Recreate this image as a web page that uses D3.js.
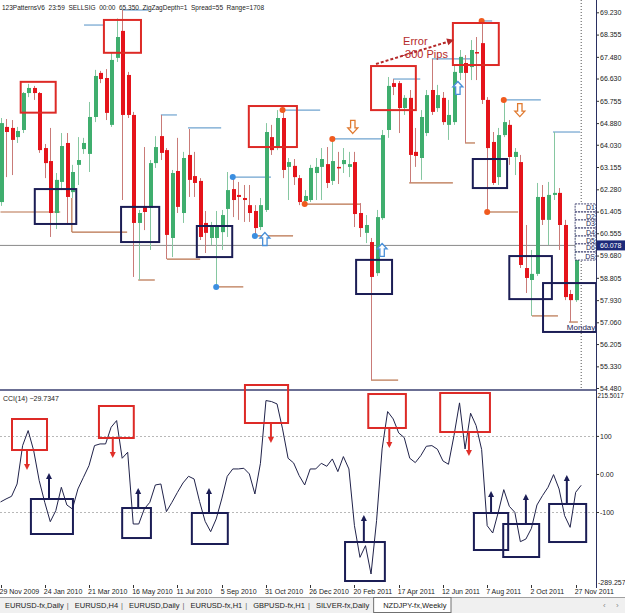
<!DOCTYPE html>
<html>
<head>
<meta charset="utf-8">
<script src="https://cdn.jsdelivr.net/npm/d3@7"></script>
<style>
body { margin: 0; background: #fff; }
svg { display: block; }
text { font-family: "Liberation Sans", Arial, sans-serif; }
</style>
</head>
<body>
<svg width="625" height="613"></svg>
<script>
var svg = d3.select("svg"),
    width = +svg.attr("width"),
    height = +svg.attr("height");

// weekly NZDJPY candles, 29 Nov 2009 .. Dec 2011
var open = [61.78,64.73,64.69,64.33,64.61,66.06,66.26,66.06,63.90,63.39,
  61.35,62.57,64.10,62.17,63.24,63.86,63.67,65.12,66.85,66.65,
  64.81,67.44,68.50,66.77,65.20,60.96,61.59,61.55,63.31,64.37,
  63.82,60.37,63.00,61.35,63.63,62.80,62.61,60.96,60.37,60.37,
  60.60,61.51,62.29,62.06,61.94,61.66,61.43,60.80,61.47,64.33,
  63.90,65.08,63.16,63.20,62.72,61.82,61.86,62.92,63.16,63.27,
  62.61,63.16,63.27,63.16,63.35,61.35,60.57,60.21,58.99,61.15,
  64.61,66.45,66.45,65.47,65.87,63.75,63.51,64.49,66.18,65.47,
  65.87,64.81,64.92,66.85,67.24,67.08,67.67,68.02,65.79,64.14,
  62.76,64.41,64.81,63.55,63.35,59.19,58.72,58.96,61.98,61.08,
  62.06,62.14,60.88,58.17,57.93,60.72];
var high = [65.08,65.04,65.00,64.73,66.10,66.42,66.34,66.10,64.06,64.69,
  62.92,64.49,64.49,63.24,64.33,64.30,65.71,66.97,66.93,67.00,
  67.67,68.99,69.32,66.89,65.32,61.47,63.94,63.43,64.37,65.20,
  63.90,63.04,64.30,63.75,64.65,63.75,62.72,61.43,61.00,61.43,
  61.47,62.96,62.76,62.57,62.45,62.45,61.66,61.94,64.88,64.81,
  65.39,65.39,63.51,63.47,62.84,62.25,63.24,63.51,63.90,63.94,
  64.26,63.75,63.90,63.75,63.75,61.74,61.27,60.37,61.47,64.61,
  66.69,66.61,66.53,65.98,66.18,64.69,65.39,66.18,67.40,66.38,
  66.10,65.79,67.16,67.75,67.55,68.14,68.26,68.89,65.90,64.53,
  64.69,65.79,65.00,63.90,63.63,60.88,59.90,62.53,62.45,62.57,
  64.53,62.33,61.08,58.33,60.88,60.88];
var low = [61.63,62.76,62.84,64.10,64.49,65.90,65.79,63.71,62.72,60.41,
  60.72,62.25,60.88,61.94,62.45,63.67,62.96,64.92,66.45,65.00,
  64.73,67.28,61.86,65.08,58.84,58.72,60.68,59.90,63.12,63.43,
  59.54,59.62,61.35,60.96,61.98,61.98,60.29,59.78,60.09,58.45,
  59.90,60.41,61.19,61.08,61.00,61.00,60.45,60.68,61.39,63.63,
  63.82,62.72,61.86,62.45,61.66,61.70,61.78,61.86,61.86,62.33,
  62.45,62.49,62.92,62.76,60.80,60.41,60.17,54.79,58.88,61.08,
  64.30,65.98,64.49,65.20,62.53,63.16,62.65,64.37,65.20,65.32,
  64.81,64.22,64.81,66.57,64.10,66.57,66.57,65.63,61.39,62.45,
  62.45,64.33,63.24,62.84,59.19,58.21,57.31,58.88,60.88,60.09,
  61.86,59.90,57.93,57.07,57.86,59.58];
var close = [64.88,64.53,64.22,64.57,66.06,66.26,66.06,63.82,63.31,61.35,
  62.65,63.98,61.98,62.96,63.43,64.10,65.12,66.73,66.61,65.28,
  67.36,68.26,65.20,65.20,60.96,61.35,61.39,63.31,63.94,63.71,
  60.49,62.92,61.59,63.51,62.65,62.53,60.41,60.57,60.80,60.88,
  61.27,62.25,61.86,61.98,61.86,61.35,60.76,61.66,64.53,63.82,
  65.08,63.04,63.35,62.76,61.78,62.02,63.12,63.16,63.47,62.53,
  63.39,63.12,63.43,63.27,61.31,60.76,60.88,58.84,61.19,64.41,
  66.34,66.30,65.47,65.87,63.63,63.59,65.12,65.98,65.32,65.98,
  64.92,65.20,66.89,67.48,66.85,67.75,67.63,65.79,63.90,62.53,
  64.41,64.92,63.55,63.75,59.31,58.80,58.96,61.98,61.08,62.06,
  62.14,60.88,58.05,57.93,60.72,60.078];

// CCI(14), one value per bar
var cci = [-73.6,-65.7,-58.7,-26.3,74.6,114.1,61.4,-17.5,-74.5,-125.4,
  -96.4,-35.0,-81.5,-92.0,-39.4,-8.7,22.0,74.6,79.0,79.0,
  122.8,140.4,41.3,57.1,-131.5,-131.5,-92.0,-74.5,-28.9,-26.3,
  -99.0,-74.5,-48.2,-23.6,-6.1,-13.1,-72.7,-124.5,-151.7,-118.3,
  -65.7,-6.1,13.2,13.2,15.0,0.1,-52.6,28.0,193.0,190.4,
  184.2,118.5,41.3,29.0,-4.3,-28.9,13.2,13.2,28.1,20.2,
  39.5,6.2,45.7,13.2,-135.9,-219.2,-188.5,-263.0,-122.7,65.8,
  164.1,144.8,107.9,95.6,41.3,29.9,48.3,72.8,74.6,65.0,
  34.3,25.5,100.9,186.9,65.8,159.7,127.2,64.1,-135.9,-155.2,
  -100.8,-41.2,-85.0,-100.8,-178.0,-171.0,-142.9,-81.5,-57.0,-35.0,
  -1.7,-39.4,-109.6,-140.3,-48.2,-29.7347];

var priceTicks = [69.230,68.355,67.480,66.630,65.755,64.880,64.030,63.155,62.280,
  61.405,60.555,59.680,58.805,57.930,57.060,56.205,55.330,54.480];
var cciTicks = [215.5017, 100, 0, -100, -289.257];
var cciTickLabels = ["215.5017", "100", "0.00", "-100", "-289.257"];
var dateTicks = [0,8,16,24,32,40,48,56,64,72,80,88,96,104];
var dateLabels = ["29 Nov 2009","24 Jan 2010","21 Mar 2010","16 May 2010","11 Jul 2010",
  "5 Sep 2010","31 Oct 2010","26 Dec 2010","20 Feb 2011","17 Apr 2011","12 Jun 2011",
  "7 Aug 2011","2 Oct 2011","27 Nov 2011"];
var tabNames = ["EURUSD-fx,Daily","EURUSD,H4","EURUSD,Daily","EURUSD-fx,H1",
  "GBPUSD-fx,H1","SILVER-fx,Daily","NZDJPY-fx,Weekly"];

// pattern annotations: [bar from, bar to, price]
var resistLines = [[15.1,18.7,68.73],[22.0,26.9,69.32],[29.0,31.9,65.20],[33.9,39.9,64.69],
  [41.9,48.9,62.76],[50.9,57.8,65.39],[59.9,69.0,64.26],[71.0,75.9,66.61],[78.0,84.9,67.40],
  [86.9,88.9,68.89],[90.9,97.7,65.79],[99.9,104.8,64.53]];
var supportLines = [[0,10.8,61.39],[12.9,22.9,60.60],[24.9,27.9,58.72],[30.1,36.1,59.54],
  [39.0,43.9,58.45],[45.8,52.9,60.45],[54.9,65.0,61.70],[67.0,71.9,54.79],[73.9,81.8,62.53],
  [84.0,85.8,64.10],[88.0,93.6,61.39],[96.1,100.8,57.31],[102.8,104.4,57.07]];
var supportDrop = [[12.9,61.94,60.60]];
var blueDots = [[39,58.45],[42,62.76],[46,60.45]];
var orangeDots = [[51,65.39],[55,61.70],[60,64.26],[87,68.89],[88,61.39],[91,65.79]];
var upArrows = [[47.8,60.33],[69.0,59.90],[82.7,66.26]];
var downArrows = [[63.7,64.73],[93.9,65.39]];
// boxes: [bar from, bar to, price top, price bottom]
var topBoxes = [[3.65,9.98,66.50,65.29],[18.7,25.4,68.93,67.64],[44.9,53.6,65.55,63.94],
  [67.0,75.1,67.12,65.39],[81.8,90.1,68.81,67.16]];
var bottomBoxes = [[6.2,13.7,62.29,60.92],[21.8,28.7,61.59,60.21],[35.5,41.9,60.84,59.62],
  [64.3,70.8,59.51,58.17],[85.4,91.6,63.47,62.33],[92.0,99.7,59.66,57.97],[98.1,107.7,58.60,56.68]];
var levelTags = [61.55,61.23,60.92,60.60,60.29,59.98,59.66];
var levelNames = ["D1","D2","D3","D4","D5","D6","DS"];
// CCI boxes [bar from, bar to, cci top, cci bottom] and arrows [bar, from, to]
var cciTopBoxes = [[2.08,8.41,144.5,63.0],[17.8,24.1,178.7,94.6],[44.2,52.0,233.9,134.0],
  [66.5,73.3,210.2,120.9],[79.5,88.5,212.9,110.3]];
var cciTopArrows = [[4.79,63.0,15.7],[20.3,94.6,47.2],[48.9,134.0,86.7],[70.3,120.9,73.5],[84.7,110.3,52.5]];
var cciBottomBoxes = [[5.5,13.1,-65.8,-157.8],[22.0,27.2,-89.5,-168.4],[34.6,41.1,-102.6,-184.1],
  [62.3,69.5,-178.9,-281.4],[85.6,91.8,-102.6,-199.9],[90.9,97.4,-131.5,-218.3],[99.2,105.9,-78.9,-178.9]];
var cciBottomArrows = [[8.77,-65.8,-2.7],[24.9,-89.5,-42.1],[37.7,-102.6,-42.1],[65.7,-178.9,-112.9],
  [88.7,-102.6,-50.0],[95.0,-131.5,-57.9],[102.4,-78.9,-7.9]];

var axisX = 596, mainBottom = 390, cciBottom = 584;
var red = "#dd2a26", navy = "#1b1d55", blueLine = "#6fa3cf", brown = "#b8714a";

var x = d3.scaleLinear().domain([0, 105]).range([0.5, 581.2]);
var y = d3.scaleLinear().domain([54.48, 69.23]).range([388, 12.3]);
var yc = d3.scaleLinear().domain([-289.257, 215.5017]).range([584, 392]);

var bars = open.map(function(o, i) {
  return { i: i, o: o, h: high[i], l: low[i], c: close[i] };
});

var defs = svg.append("defs");
defs.append("clipPath").attr("id", "clipMain").append("rect")
  .attr("x", 0).attr("y", 0).attr("width", axisX).attr("height", mainBottom);
defs.append("clipPath").attr("id", "clipCci").append("rect")
  .attr("x", 0).attr("y", mainBottom + 1).attr("width", axisX).attr("height", cciBottom - mainBottom + 2);

// ---------- main price panel ----------
var main = svg.append("g").attr("clip-path", "url(#clipMain)");

// bid line
main.append("line")
  .attr("x1", 0).attr("x2", axisX)
  .attr("y1", y(close[close.length - 1])).attr("y2", y(close[close.length - 1]))
  .style("stroke", "#8a8a8a").style("stroke-width", 1);

// vertical dotted line at the last bar
main.append("line")
  .attr("x1", x(105)).attr("x2", x(105)).attr("y1", 0).attr("y2", mainBottom)
  .style("stroke", "#555").style("stroke-dasharray", "1,2");

// pattern lines
main.selectAll(".res").data(resistLines).enter().append("line")
  .attr("x1", function(d) { return x(d[0]); }).attr("x2", function(d) { return x(d[1]); })
  .attr("y1", function(d) { return y(d[2]); }).attr("y2", function(d) { return y(d[2]); })
  .style("stroke", blueLine).style("stroke-width", 1.2);
main.selectAll(".sup").data(supportLines).enter().append("line")
  .attr("x1", function(d) { return x(d[0]); }).attr("x2", function(d) { return x(d[1]); })
  .attr("y1", function(d) { return y(d[2]); }).attr("y2", function(d) { return y(d[2]); })
  .style("stroke", brown).style("stroke-width", 1.2);
main.selectAll(".drop").data(supportDrop).enter().append("line")
  .attr("x1", function(d) { return x(d[0]); }).attr("x2", function(d) { return x(d[0]); })
  .attr("y1", function(d) { return y(d[1]); }).attr("y2", function(d) { return y(d[2]); })
  .style("stroke", brown).style("stroke-width", 1.2);

// candles
main.selectAll(".wick").data(bars).enter().append("line")
  .attr("x1", function(d) { return Math.round(x(d.i)) + 0.5; })
  .attr("x2", function(d) { return Math.round(x(d.i)) + 0.5; })
  .attr("y1", function(d) { return y(d.h); })
  .attr("y2", function(d) { return y(d.l); })
  .style("stroke", function(d) { return d.c >= d.o ? "#86c7a1" : "#c97b78"; })
  .style("stroke-width", 1);
main.selectAll(".body").data(bars).enter().append("rect")
  .attr("x", function(d) { return Math.round(x(d.i)) - 1; })
  .attr("width", 4)
  .attr("y", function(d) { return y(Math.max(d.o, d.c)); })
  .attr("height", function(d) { return Math.max(1.5, Math.abs(y(d.o) - y(d.c))); })
  .style("fill", function(d) { return d.c >= d.o ? "#3fae6e" : "#e5141b"; });

// dots
main.selectAll(".bdot").data(blueDots).enter().append("circle")
  .attr("cx", function(d) { return x(d[0]); }).attr("cy", function(d) { return y(d[1]); })
  .attr("r", 3).style("fill", "#3b8ee0");
main.selectAll(".odot").data(orangeDots).enter().append("circle")
  .attr("cx", function(d) { return x(d[0]); }).attr("cy", function(d) { return y(d[1]); })
  .attr("r", 3).style("fill", "#f05a1e");

// hollow arrows
var arrowUp = "M0,-6.5 L5,-1 L2.2,-1 L2.2,6.5 L-2.2,6.5 L-2.2,-1 L-5,-1 Z";
var arrowDown = "M0,6.5 L5,1 L2.2,1 L2.2,-6.5 L-2.2,-6.5 L-2.2,1 L-5,1 Z";
main.selectAll(".uarr").data(upArrows).enter().append("path")
  .attr("d", arrowUp)
  .attr("transform", function(d) { return "translate(" + x(d[0]) + "," + y(d[1]) + ")"; })
  .style("fill", "#fff").style("stroke", "#4a90d9").style("stroke-width", 1.3);
main.selectAll(".darr").data(downArrows).enter().append("path")
  .attr("d", arrowDown)
  .attr("transform", function(d) { return "translate(" + x(d[0]) + "," + y(d[1]) + ")"; })
  .style("fill", "#fff").style("stroke", "#e07a30").style("stroke-width", 1.3);

// boxes
function drawBoxes(g, data, sy, color) {
  g.selectAll(null).data(data).enter().append("rect")
    .attr("x", function(d) { return x(d[0]); })
    .attr("width", function(d) { return x(d[1]) - x(d[0]); })
    .attr("y", function(d) { return sy(d[2]); })
    .attr("height", function(d) { return sy(d[3]) - sy(d[2]); })
    .style("fill", "none").style("stroke", color).style("stroke-width", 2);
}
drawBoxes(main, topBoxes, y, red);
drawBoxes(main, bottomBoxes, y, navy);

// stacked level tags at right edge
var tags = main.selectAll(".tag").data(levelTags).enter().append("g");
tags.append("rect")
  .attr("x", x(103.9)).attr("width", axisX - x(103.9))
  .attr("y", function(d) { return y(d) - 4; }).attr("height", 8)
  .style("fill", "#fff").style("stroke", navy).style("stroke-width", 0.8)
  .style("stroke-dasharray", "2,1");
tags.append("text")
  .attr("x", axisX - 1).attr("y", function(d) { return y(d) + 2.5; })
  .attr("text-anchor", "end").style("font-size", "7px").style("fill", navy)
  .text(function(d, i) { return levelNames[i]; });

// "Monday" label
main.append("text").attr("x", x(102.4)).attr("y", y(56.76))
  .style("font-size", "8px").style("fill", navy).text("Monday");

// error note
main.append("line")
  .attr("x1", x(67.9)).attr("y1", y(67.20)).attr("x2", x(81.3)).attr("y2", y(68.10))
  .style("stroke", "#b52a2a").style("stroke-width", 2).style("stroke-dasharray", "3,2");
main.append("path")
  .attr("d", "M0,0 L-7,-3.5 L-7,3.5 Z")
  .attr("transform", "translate(" + x(82.0) + "," + y(68.15) + ") rotate(" +
    (Math.atan2(y(68.15) - y(67.20), x(82.0) - x(67.9)) * 180 / Math.PI) + ")")
  .style("fill", "#b52a2a");
main.append("text").attr("x", x(72.8)).attr("y", y(67.95))
  .style("font-size", "11px").style("fill", "#b52a2a").text("Error");
main.append("text").attr("x", x(72.5)).attr("y", y(67.42))
  .style("font-size", "11px").style("fill", "#b52a2a").text("-300 Pips");

// header
svg.append("text").attr("x", 2).attr("y", 10)
  .attr("textLength", 262).attr("lengthAdjust", "spacingAndGlyphs")
  .style("font-size", "8px").style("fill", "#222").style("white-space", "pre")
  .text("123PatternsV6  23:59  SELLSIG  00:00  65.350  ZigZagDepth=1  Spread=55  Range=1708");

// price axis
var pAxis = svg.append("g").attr("transform", "translate(" + axisX + ",0)")
  .call(d3.axisRight(y).tickValues(priceTicks).tickSize(3).tickSizeOuter(0)
    .tickFormat(d3.format(".3f")));
pAxis.select(".domain").remove();
pAxis.selectAll("text").style("font-size", "7px").style("fill", "#222")
  .style("font-family", "'Liberation Sans', Arial, sans-serif").attr("x", 4);
pAxis.selectAll("line").style("stroke", "#333");

// current price label
var last = close[close.length - 1];
svg.append("rect").attr("x", axisX + 1).attr("y", y(last) - 5).attr("width", width - axisX - 1)
  .attr("height", 10).style("fill", "#1c2a7a");
svg.append("text").attr("x", axisX + 4).attr("y", y(last) + 2.5)
  .style("font-size", "7px").style("fill", "#fff").text(d3.format(".3f")(last));

// ---------- CCI panel ----------
svg.append("line").attr("x1", 0).attr("x2", axisX).attr("y1", mainBottom).attr("y2", mainBottom)
  .style("stroke", "#3a3f70").style("stroke-width", 1.5);
svg.append("line").attr("x1", axisX + 0.5).attr("x2", axisX + 0.5).attr("y1", 0).attr("y2", cciBottom + 4)
  .style("stroke", "#2a2f60").style("stroke-width", 1);

var cg = svg.append("g");
cg.selectAll(".grid").data([100, -100]).enter().append("line")
  .attr("x1", 0).attr("x2", axisX)
  .attr("y1", function(d) { return Math.round(yc(d)) + 0.5; })
  .attr("y2", function(d) { return Math.round(yc(d)) + 0.5; })
  .style("stroke", "#b8b8b8").style("stroke-dasharray", "2,2");

cg.append("path").datum(cci)
  .attr("clip-path", "url(#clipCci)")
  .attr("d", d3.line().x(function(d, i) { return x(i); }).y(function(d) { return yc(d); }))
  .style("fill", "none").style("stroke", "#20224a").style("stroke-width", 1);

drawBoxes(cg, cciTopBoxes, yc, red);
drawBoxes(cg, cciBottomBoxes, yc, navy);

function drawArrows(g, data, color) {
  g.selectAll(null).data(data).enter().append("line")
    .attr("x1", function(d) { return x(d[0]); }).attr("x2", function(d) { return x(d[0]); })
    .attr("y1", function(d) { return yc(d[1]); }).attr("y2", function(d) { return yc(d[2]); })
    .style("stroke", color).style("stroke-width", 2);
  g.selectAll(null).data(data).enter().append("path")
    .attr("d", function(d) {
      var xx = x(d[0]), yy = yc(d[2]), dir = yc(d[2]) > yc(d[1]) ? 1 : -1;
      return "M" + xx + "," + (yy + dir * 2) + "L" + (xx - 3) + "," + (yy - dir * 4) +
        "L" + (xx + 3) + "," + (yy - dir * 4) + "Z";
    })
    .style("fill", color);
}
drawArrows(cg, cciTopArrows, "#e0302a");
drawArrows(cg, cciBottomArrows, navy);

svg.append("text").attr("x", 3).attr("y", 401)
  .style("font-size", "7px").style("fill", "#222")
  .text("CCI(14) " + d3.format(".4f")(cci[cci.length - 1]));

var cAxis = svg.append("g").attr("transform", "translate(" + axisX + ",0)")
  .call(d3.axisRight(yc).tickValues(cciTicks).tickSize(3)
    .tickFormat(function(d, i) { return cciTickLabels[i]; }));
cAxis.select(".domain").remove();
cAxis.selectAll("text").style("font-size", "7px").style("fill", "#222")
  .style("font-family", "'Liberation Sans', Arial, sans-serif").attr("x", 4);
cAxis.selectAll("line").style("stroke", "#333");
var firstTick = cAxis.selectAll(".tick").filter(function(d, i) { return i === 0; });
firstTick.select("text").attr("dy", "0.9em").attr("x", 1.5).style("font-size", "6.3px");
firstTick.select("line").remove();
var lastTick = cAxis.selectAll(".tick").filter(function(d, i) { return i === cciTicks.length - 1; });
lastTick.select("text").attr("dy", "0em").attr("x", 2);
lastTick.select("line").remove();

// ---------- time axis ----------
svg.selectAll(".date").data(dateTicks).enter().append("text")
  .attr("x", function(d) { return x(d) - 1; }).attr("y", 594)
  .style("font-size", "7px").style("fill", "#222")
  .text(function(d, i) { return dateLabels[i]; });
svg.selectAll(".dtick").data(dateTicks).enter().append("line")
  .attr("x1", function(d) { return Math.round(x(d)) + 0.5; })
  .attr("x2", function(d) { return Math.round(x(d)) + 0.5; })
  .attr("y1", cciBottom + 1).attr("y2", cciBottom + 4)
  .style("stroke", "#333");

// ---------- tabs ----------
svg.append("rect").attr("x", 0).attr("y", 597).attr("width", width).attr("height", 16)
  .style("fill", "#f0f0f0");
svg.append("line").attr("x1", 0).attr("x2", width).attr("y1", 597.5).attr("y2", 597.5)
  .style("stroke", "#a0a0a0");
var tabBack = svg.append("g"), tabFront = svg.append("g");
var tx = 5;
tabNames.forEach(function(name, i) {
  var active = i === tabNames.length - 1;
  if (active) tx += 3;
  var t = tabFront.append("text").attr("x", tx).attr("y", 608)
    .style("font-size", "7.5px").style("fill", "#222").text(name);
  var w = t.node().getComputedTextLength();
  if (active) {
    tabBack.append("rect")
      .attr("x", tx - 9.5).attr("y", 597.5).attr("width", w + 14).attr("height", 15)
      .style("fill", "#fff").style("stroke", "#707070");
  } else if (i < tabNames.length - 2) {
    tabFront.append("text").attr("x", tx + w + 3).attr("y", 608)
      .style("font-size", "7.5px").style("fill", "#666").text("|");
  }
  tx += w + 11;
});
svg.append("text").attr("x", 603).attr("y", 608).style("font-size", "8px").style("fill", "#888").text("\u2039");
svg.append("text").attr("x", 616).attr("y", 608).style("font-size", "8px").style("fill", "#888").text("\u203a");
</script>
</body>
</html>
